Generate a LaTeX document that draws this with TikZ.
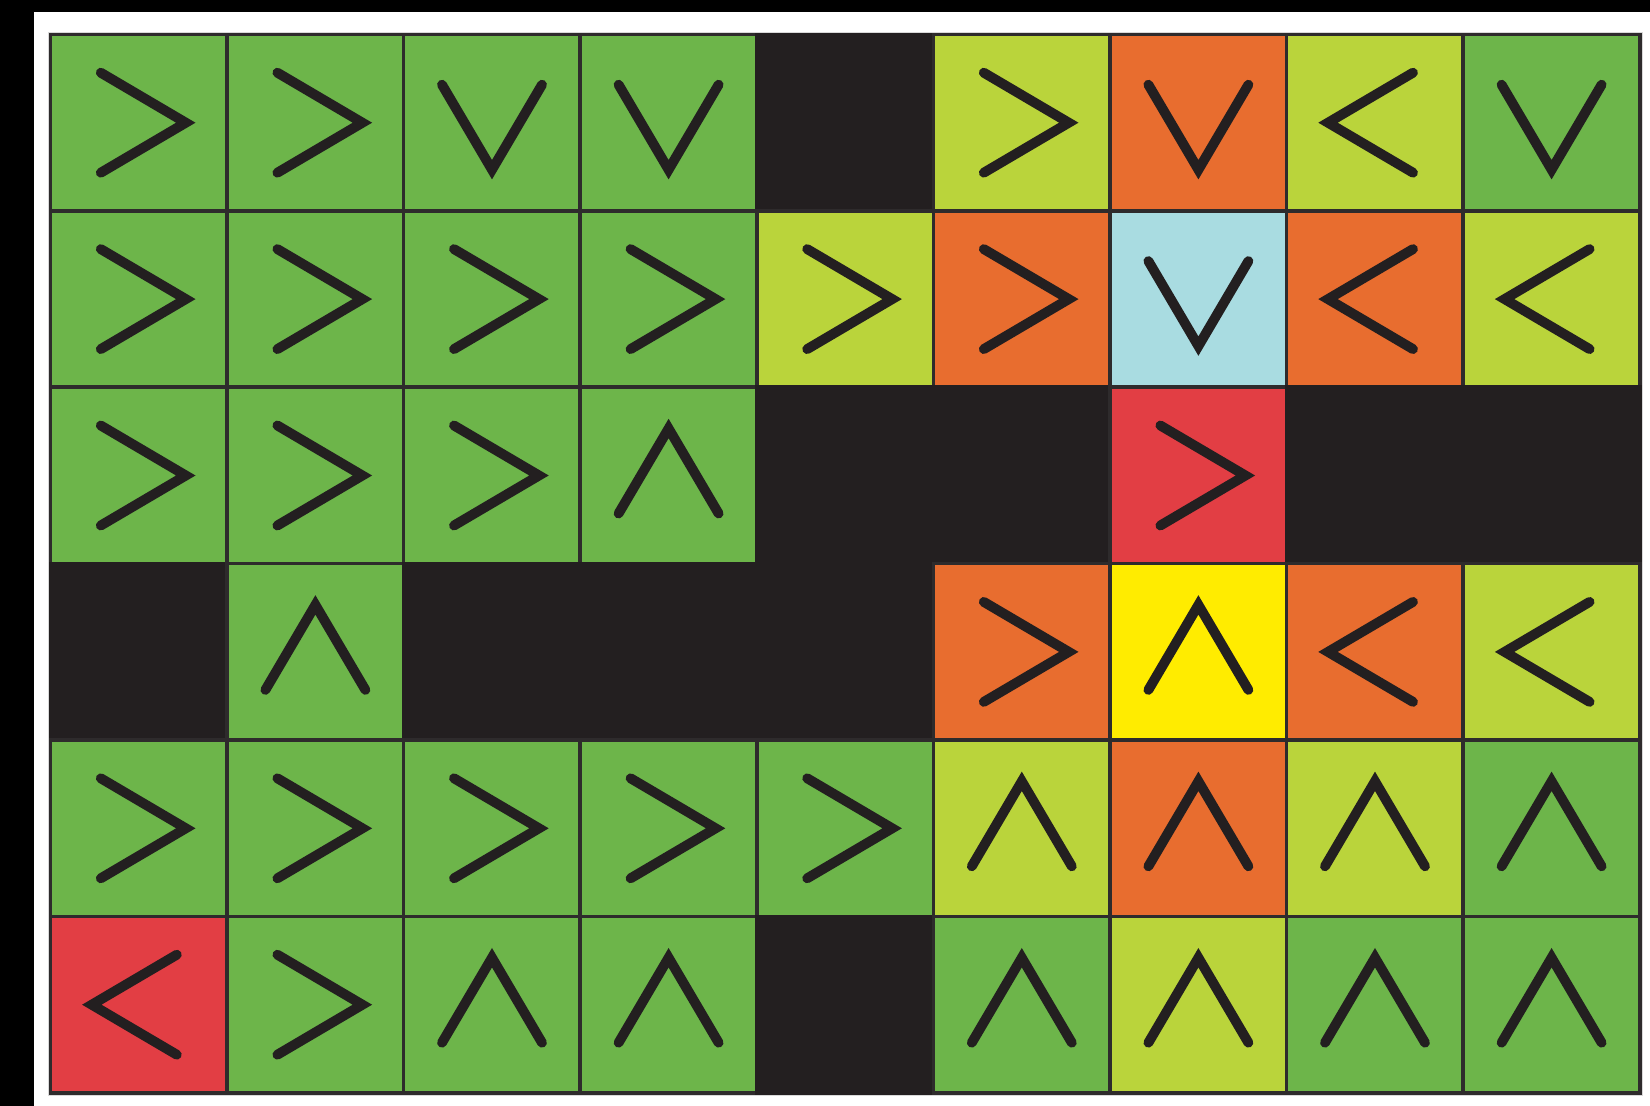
\documentclass[tikz,border=0pt]{standalone}
\definecolor{cG}{HTML}{6DB54A}
\definecolor{cL}{HTML}{BAD43B}
\definecolor{cO}{HTML}{E86D2F}
\definecolor{cB}{HTML}{A9DCE1}
\definecolor{cR}{HTML}{E23E44}
\definecolor{cY}{HTML}{FFEC00}
\definecolor{cK}{HTML}{231F20}
\definecolor{gridc}{HTML}{2E2B2C}
\begin{document}
\begin{tikzpicture}[x=0.01cm,y=-0.01cm,
  cellbox/.style={draw=gridc, line width=1pt, minimum width=1.766cm, minimum height=1.764cm, inner sep=0pt, outer sep=0pt},
  bdK/.style={draw=cK},
  chevline/.style={draw=cK, line width=2.8pt, line cap=round, line join=miter},
  chev/.pic={\draw[chevline] (-38,-50) -- (47,0) -- (-38,50);}]
\useasboundingbox (0,0) rectangle (1650,1106);
\fill[white] (0,0) rectangle (1650,1106);
\fill[black] (0,0) rectangle (1650,12);
\fill[black] (0,0) rectangle (34,1106);
\fill[black!15] (48,32) rectangle (1643,1096);
\def\none{n}
\foreach \row [count=\ri] in {
  {G/0,G/0,G/-90,G/-90,K/n,L/0,O/-90,L/180,G/-90},
  {G/0,G/0,G/0,G/0,L/0,O/0,B/-90,O/180,L/180},
  {G/0,G/0,G/0,G/90,K/n,K/n,R/0,K/n,K/n},
  {K/n,G/90,K/n,K/n,K/n,O/0,Y/90,O/180,L/180},
  {G/0,G/0,G/0,G/0,G/0,L/90,O/90,L/90,G/90},
  {R/180,G/0,G/90,G/90,K/n,G/90,L/90,G/90,G/90}}{
  \foreach \col/\dd [count=\ci] in \row {
    \node[cellbox, fill=c\col, bd\col/.try] (cell-\ri-\ci) at ({50.5+176.6*(\ci-0.5)},{34.5+176.4*(\ri-0.5)}) {};
    \ifx\dd\none\else
      \pic[rotate=\dd] at (cell-\ri-\ci.center) {chev};
    \fi
  }
}
\end{tikzpicture}
\end{document}
